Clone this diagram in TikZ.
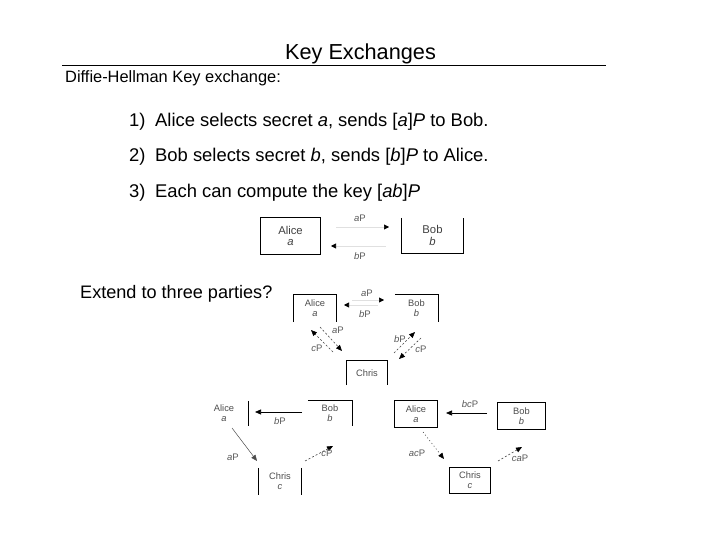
\documentclass[tikz,border=0pt]{standalone}
\usepackage{fontspec}
\setmainfont{Liberation Sans}
\usetikzlibrary{arrows.meta}
\begin{document}
\begin{tikzpicture}[x=1pt,y=-1pt,
  txt/.style={inner sep=0pt, anchor=base west, font=\fontsize{16.4}{20}\selectfont},
  item/.style={inner sep=0pt, anchor=base west, font=\fontsize{18.4}{22}\selectfont},
  bigbox/.style={inner sep=0pt, align=center, font=\fontsize{11.3}{11.5}\selectfont, text=black!75},
  box/.style={inner sep=0pt, align=center, font=\fontsize{9.3}{9.8}\selectfont, text=black!70},
  lbl/.style={inner sep=0pt, font=\fontsize{9.5}{10}\selectfont, text=black!65},
  side/.style={line width=0.8pt},
  faint/.style={draw=black!12, line width=0.6pt, -{Triangle[length=5pt,width=5pt,color=black]}},
  solidarr/.style={draw=black, line width=0.7pt, -{Triangle[length=6pt,width=5pt]}},
  dasharr/.style={draw=black!75, line width=0.6pt, dash pattern=on 2pt off 2pt, -{Triangle[length=6pt,width=5pt,color=black]}},
]
\useasboundingbox (0,0) rectangle (720,540);

% heading
\node[inner sep=0pt, anchor=base, font=\fontsize{21.7}{26}\selectfont] (title) at (360.5,60) {Key Exchanges};
\coordinate (rl) at (62,65.5);
\coordinate (rr) at (606,65.5);
\draw[line width=1.8pt] (rl) -- (rr);

\node[txt] (dh) at (65,83) {Diffie-Hellman Key exchange:};
\node[item] (n1) at (129,127) {1)};
\node[item] (t1) at (155,127) {Alice selects secret \textit{a}, sends [\textit{a}]\textit{P} to Bob.};
\node[item] (n2) at (129,162) {2)};
\node[item] (t2) at (155,162) {Bob selects secret \textit{b}, sends [\textit{b}]\textit{P} to Alice.};
\node[item] (n3) at (129,197) {3)};
\node[item] (t3) at (155,197) {Each can compute the key [\textit{ab}]\textit{P}};
\node[inner sep=0pt, anchor=base west, font=\fontsize{18.1}{22}\selectfont] (ext) at (80,298) {Extend to three parties?};

% ---------- diagram 1
\node[bigbox, minimum width=59pt, minimum height=36pt] (alice1) at (290.5,236) {Alice\\\textit{a}};
\node[bigbox, minimum width=61pt, minimum height=35pt] (bob1) at (432.5,235.5) {Bob\\\textit{b}};
\draw[side] (alice1.north west) rectangle (alice1.south east);
\draw[side] (bob1.north west) -- (bob1.south west) -- (bob1.south east) -- (bob1.north east);
\coordinate (d1a) at (336,227); \coordinate (d1b) at (389,227);
\coordinate (d1c) at (386,246); \coordinate (d1d) at (331,246);
\draw[faint] (d1a) -- (d1b);
\draw[faint] (d1c) -- (d1d);
\node[lbl] (l1a) at (360,218) {\textit{a}P};
\node[lbl] (l1b) at (360,256) {\textit{b}P};

% ---------- diagram 2
\node[box, minimum width=42pt, minimum height=27pt] (alice2) at (315,308.5) {Alice\\\textit{a}};
\node[box, minimum width=43pt, minimum height=27pt] (bob2) at (416.5,308.5) {Bob\\\textit{b}};
\node[box, minimum width=40pt, minimum height=24pt] (chris2) at (367,373) {Chris};
\draw[side] (alice2.south west) -- (alice2.north west) -- (alice2.north east) -- (alice2.south east);
\draw[side] (bob2.north west) -- (bob2.north east) -- (bob2.south east);
\draw[side] (chris2.south west) -- (chris2.north west) -- (chris2.north east) -- (chris2.south east);
\coordinate (d2a) at (352,300); \coordinate (d2b) at (384,300);
\coordinate (d2c) at (378,305); \coordinate (d2d) at (344,305);
\draw[faint] (d2a) -- (d2b);
\draw[faint] (d2c) -- (d2d);
\node[lbl] (l2a) at (367,293) {\textit{a}P};
\node[lbl] (l2b) at (365,314) {\textit{b}P};
\coordinate (d2e) at (320,327); \coordinate (d2f) at (342,351);
\coordinate (d2g) at (333,352); \coordinate (d2h) at (311,330);
\draw[dasharr] (d2e) -- (d2f);
\draw[dasharr] (d2g) -- (d2h);
\node[lbl] (l2c) at (338,330) {\textit{a}P};
\node[lbl] (l2d) at (317,348) {\textit{c}P};
\coordinate (d2i) at (394,353); \coordinate (d2j) at (415,332);
\coordinate (d2k) at (421,338); \coordinate (d2l) at (399,359);
\draw[dasharr] (d2i) -- (d2j);
\draw[dasharr] (d2k) -- (d2l);
\node[lbl] (l2e) at (400,339) {\textit{b}P};
\node[lbl] (l2f) at (421,349) {\textit{c}P};

% ---------- diagram 3
\node[box, minimum width=48pt, minimum height=25pt] (alice3) at (224,413.5) {Alice\\\textit{a}};
\node[box, minimum width=44pt, minimum height=25pt] (bob3) at (330,413.5) {Bob\\\textit{b}};
\node[box, minimum width=42pt, minimum height=27pt] (chris3) at (280,481.5) {Chris\\\textit{c}};
\draw[side] (alice3.north east) -- (alice3.south east);
\draw[side] (bob3.north west) -- (bob3.north east) -- (bob3.south east);
\draw[side] (chris3.north west) -- (chris3.south west);
\draw[side] (chris3.north east) -- (chris3.south east);
\coordinate (d3a) at (302,412); \coordinate (d3b) at (255,412);
\draw[solidarr] (d3a) -- (d3b);
\node[lbl] (l3a) at (280,421) {\textit{b}P};
\coordinate (d3c) at (232,428); \coordinate (d3d) at (257,461);
\draw[solidarr, draw=black!70, line width=0.5pt] (d3c) -- (d3d);
\node[lbl] (l3b) at (233,457) {\textit{a}P};
\coordinate (d3e) at (305,461); \coordinate (d3f) at (333,446);
\draw[dasharr] (d3e) -- (d3f);
\node[lbl] (l3c) at (327,453) {\textit{c}P};

% ---------- diagram 4
\node[box, minimum width=42pt, minimum height=26pt] (alice4) at (416,414) {Alice\\\textit{a}};
\node[box, minimum width=47pt, minimum height=26pt] (bob4) at (521.5,416) {Bob\\\textit{b}};
\node[box, minimum width=40pt, minimum height=25pt] (chris4) at (470,480.5) {Chris\\\textit{c}};
\draw[side] (alice4.north west) rectangle (alice4.south east);
\draw[side] (bob4.north west) rectangle (bob4.south east);
\draw[side] (chris4.north west) rectangle (chris4.south east);
\coordinate (d4a) at (487,413); \coordinate (d4b) at (446,413);
\draw[solidarr] (d4a) -- (d4b);
\node[lbl] (l4a) at (470,404) {\textit{bc}P};
\coordinate (d4c) at (423,432); \coordinate (d4d) at (444,459);
\draw[dasharr, dash pattern=on 1pt off 2.5pt] (d4c) -- (d4d);
\node[lbl] (l4b) at (417,453) {\textit{ac}P};
\coordinate (d4e) at (498,461); \coordinate (d4f) at (522,447);
\draw[dasharr] (d4e) -- (d4f);
\node[lbl] (l4c) at (520,458) {\textit{ca}P};
\end{tikzpicture}
\end{document}
